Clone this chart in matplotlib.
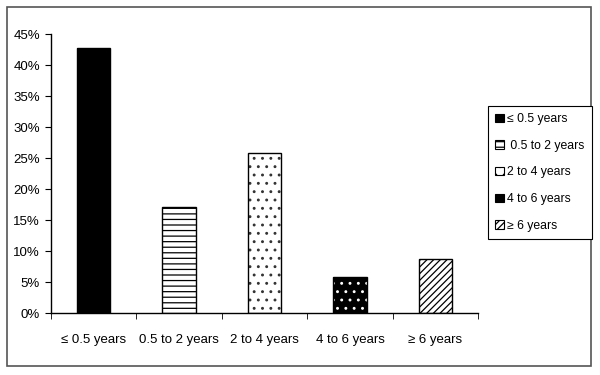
from matplotlib import pyplot as plt
from matplotlib.patches import Rectangle
import numpy as np

plt.rcParams['font.family'] = ['Liberation Sans', 'DejaVu Sans']
plt.rcParams['hatch.linewidth'] = 0.9

categories = ['≤ 0.5 years', '0.5 to 2 years', '2 to 4 years', '4 to 6 years', '≥ 6 years']
legend_labels = ['≤ 0.5 years', ' 0.5 to 2 years', '2 to 4 years', '4 to 6 years', '≥ 6 years']
values = [42.8, 17.1, 25.8, 5.9, 8.7]
yticks = [0, 5, 10, 15, 20, 25, 30, 35, 40, 45]

faces = ['black', 'white', 'white', 'black', 'white']
hatches = [None, '---', '..', '..', '/////']
hatch_colors = ['black', 'black', '#333333', 'white', 'black']

fig = plt.figure(figsize=(6, 3.75), dpi=100)
ax = fig.add_axes([0.085, 0.165, 0.712, 0.744])

x = np.arange(len(categories))
handles = []
for i in range(len(categories)):
    # hatch colour follows edgecolor, so draw hatch first and an outline on top
    ax.bar(x[i], values[i], width=0.39, color=faces[i], edgecolor=hatch_colors[i],
           hatch=hatches[i], linewidth=0)
    ax.bar(x[i], values[i], width=0.39, fill=False, edgecolor='black', linewidth=1.0)
    proxy = Rectangle((0, 0), 1, 1, facecolor=faces[i], edgecolor='black',
                      hatch=hatches[i], linewidth=0.8)
    handles.append(proxy)

ax.set_xlim(-0.5, len(categories) - 0.5)
ax.set_ylim(0, 45)
ax.set_yticks(yticks)
ax.set_yticklabels(['{0}%'.format(t) for t in yticks])
ax.set_xticks(x)
ax.set_xticklabels(categories)
ax.set_xticks(np.arange(len(categories) + 1) - 0.5, minor=True)
ax.tick_params(axis='x', which='major', length=0, pad=15, labelsize=9.5)
ax.tick_params(axis='x', which='minor', length=4, direction='out', color='black')
ax.tick_params(axis='y', length=4, direction='out', pad=4, labelsize=9.5)

for side in ['top', 'right']:
    ax.spines[side].set_visible(False)
for side in ['left', 'bottom']:
    ax.spines[side].set_color('black')
    ax.spines[side].set_linewidth(1.0)

leg = fig.legend(handles, legend_labels, loc='upper left', bbox_to_anchor=(0.813, 0.718),
                 bbox_transform=fig.transFigure, borderaxespad=0, fancybox=False,
                 edgecolor='black', framealpha=1, fontsize=8.8, handlelength=0.7,
                 handleheight=0.7, handletextpad=0.3, labelspacing=1.2, borderpad=0.6)
leg.get_frame().set_linewidth(0.8)

fig.patches.append(Rectangle((7 / 600, 9 / 375), 584 / 600, 359 / 375, transform=fig.transFigure,
                             fill=False, edgecolor='#555555', linewidth=1.2))

fig.savefig('out.png', dpi=100)
